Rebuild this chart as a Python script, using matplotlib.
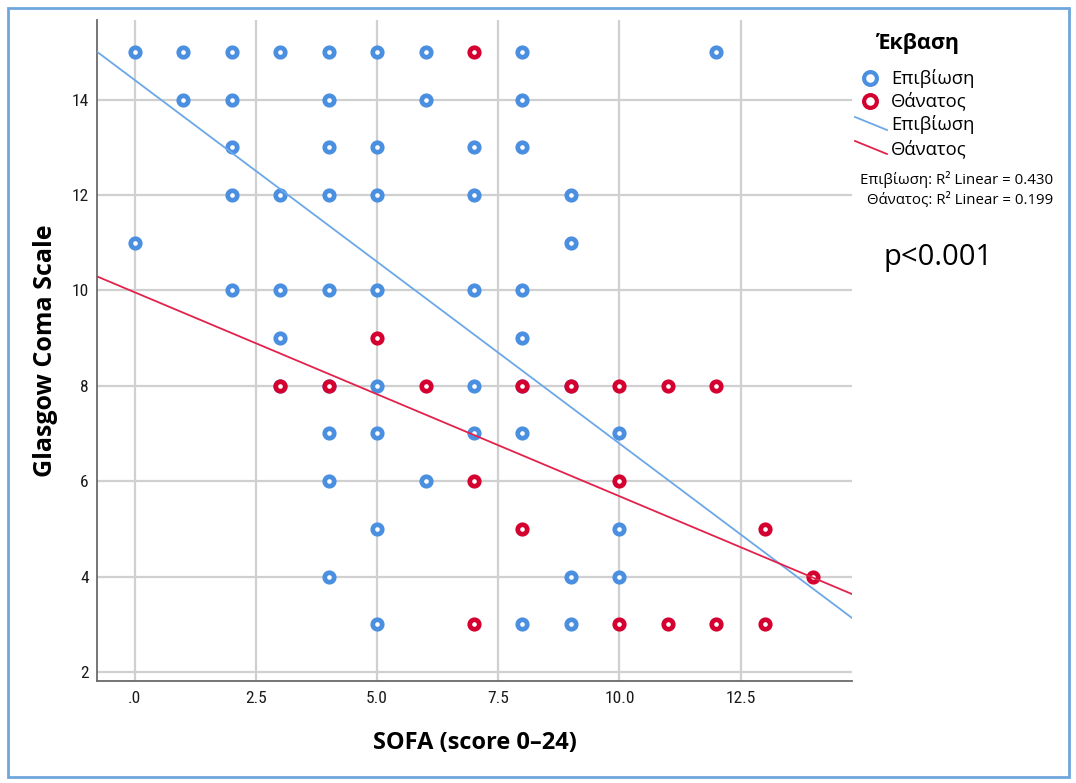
import matplotlib
matplotlib.use("Agg")
import matplotlib.pyplot as plt
from matplotlib import font_manager
from matplotlib.lines import Line2D
from matplotlib.patches import Rectangle

# ---------------- data ----------------
surv_x = [0, 1, 2, 3, 4, 5, 6, 8, 12,
          1, 2, 4, 6, 8,
          2, 4, 5, 7, 8,
          2, 3, 4, 5, 7, 9,
          0, 9,
          2, 3, 4, 5, 7, 8,
          3, 8,
          3, 4, 5, 7, 8, 9,
          4, 5, 7, 8, 10,
          4, 6,
          5, 10,
          4, 9, 10,
          5, 8, 9]
surv_y = [15, 15, 15, 15, 15, 15, 15, 15, 15,
          14, 14, 14, 14, 14,
          13, 13, 13, 13, 13,
          12, 12, 12, 12, 12, 12,
          11, 11,
          10, 10, 10, 10, 10, 10,
          9, 9,
          8, 8, 8, 8, 8, 8,
          7, 7, 7, 7, 7,
          6, 6,
          5, 5,
          4, 4, 4,
          3, 3, 3]
death_x = [7, 5, 3, 4, 6, 8, 9, 10, 11, 12, 7, 10, 8, 13, 14, 7, 10, 11, 12, 13]
death_y = [15, 9, 8, 8, 8, 8, 8, 8, 8, 8, 6, 6, 5, 5, 4, 3, 3, 3, 3, 3]

# linear fits (intercept, slope) per group
fit_surv = (14.41, -0.762)
fit_death = (9.96, -0.4275)
r2_surv = 0.430
r2_death = 0.199

group_labels = ["Επιβίωση", "Θάνατος"]
legend_title = "Έκβαση"
x_ticks = [0, 2.5, 5.0, 7.5, 10.0, 12.5]
x_ticklabels = [".0", "2.5", "5.0", "7.5", "10.0", "12.5"]
y_ticks = [2, 4, 6, 8, 10, 12, 14]

# ---------------- style ----------------
avail = {f.name for f in font_manager.fontManager.ttflist}
def pick(*names):
    for n in names:
        if n in avail:
            return n
    return "DejaVu Sans"
narrow = pick("Liberation Sans Narrow", "DejaVu Sans Condensed", "Roboto Condensed", "Open Sans Condensed", "Liberation Sans")
main = pick("Open Sans", "Noto Sans", "DejaVu Sans")

blue = "#4a8fe0"
red = "#d4002f"
blue_line = "#6aa8ea"
red_line = "#e3224c"
grid_c = "#d0d0d0"

fig = plt.figure(figsize=(10.76, 7.83), dpi=100)
W, H = 1076, 783
ax = fig.add_axes([97 / W, 1 - 681 / H, (852 - 97) / W, (681 - 20) / H])
xlim = (-0.78, 14.8)
ylim = (1.81, 15.67)
ax.set_xlim(*xlim)
ax.set_ylim(*ylim)

for s in ["top", "right"]:
    ax.spines[s].set_visible(False)
for s in ["left", "bottom"]:
    ax.spines[s].set_color("#6a6a6a")
    ax.spines[s].set_linewidth(1.3)

ax.set_xticks(x_ticks)
ax.set_xticklabels(x_ticklabels)
ax.set_yticks(y_ticks)
ax.tick_params(length=0, labelsize=12.5, colors="#1a1a1a")
ax.tick_params(axis="x", pad=7)
ax.tick_params(axis="y", pad=6)
for lab in ax.get_xticklabels() + ax.get_yticklabels():
    lab.set_family(narrow)
ax.grid(True, color=grid_c, linewidth=1.6, zorder=0)
ax.set_axisbelow(True)

ms, mew = 6.8, 3.4
ax.plot(surv_x, surv_y, "o", ms=ms, mfc="white", mec=blue, mew=mew, zorder=3, ls="none")
ax.plot(death_x, death_y, "o", ms=ms, mfc="white", mec=red, mew=mew, zorder=4, ls="none")

ax.plot(xlim, [fit_surv[0] + fit_surv[1] * x for x in xlim], color=blue_line, lw=1.3, zorder=5)
ax.plot(xlim, [fit_death[0] + fit_death[1] * x for x in xlim], color=red_line, lw=1.3, zorder=5)

ax.set_ylabel("Glasgow Coma Scale", fontsize=18, fontweight="bold", family=main, labelpad=10)
ax.set_xlabel("SOFA (score 0–24)", fontsize=17, fontweight="bold", family=main, labelpad=18)

# ---------------- legend (figure pixel coords) ----------------
def fx(px):
    return px / W
def fy(py):
    return 1 - py / H

fig.text(fx(918), fy(43), legend_title, fontsize=15.5, fontweight="bold", family=main, ha="center", va="center")
for i, (c, lab) in enumerate(zip([blue, red], group_labels)):
    yy = [78, 101][i]
    fig.add_artist(Line2D([fx(870)], [fy(yy)], marker="o", ms=9.2, mfc="white", mec=c, mew=3.0, ls="none"))
    fig.text(fx(891), fy(yy), lab, fontsize=13.3, family=main, ha="left", va="center")
for i, (c, lab) in enumerate(zip([blue_line, red_line], group_labels)):
    yy = [125, 149][i]
    fig.add_artist(Line2D([fx(855), fx(887)], [fy(yy - 8), fy(yy + 5)], color=c, lw=1.3))
    fig.text(fx(891), fy(yy), lab, fontsize=13.3, family=main, ha="left", va="center")

fig.text(fx(1053), fy(180), f"{group_labels[0]}: R² Linear = {r2_surv:.3f}", fontsize=10.8, family=main, ha="right", va="center")
fig.text(fx(1053), fy(200), f"{group_labels[1]}: R² Linear = {r2_death:.3f}", fontsize=10.8, family=main, ha="right", va="center")
fig.text(fx(938), fy(257), "p<0.001", fontsize=21, family=main, ha="center", va="center")

# outer blue frame
fig.add_artist(Rectangle((fx(8), fy(777)), fx(1069 - 8), (777 - 8) / H, fill=False,
                         edgecolor="#6fa6dc", linewidth=2.0))

fig.savefig("out.png", dpi=100)
